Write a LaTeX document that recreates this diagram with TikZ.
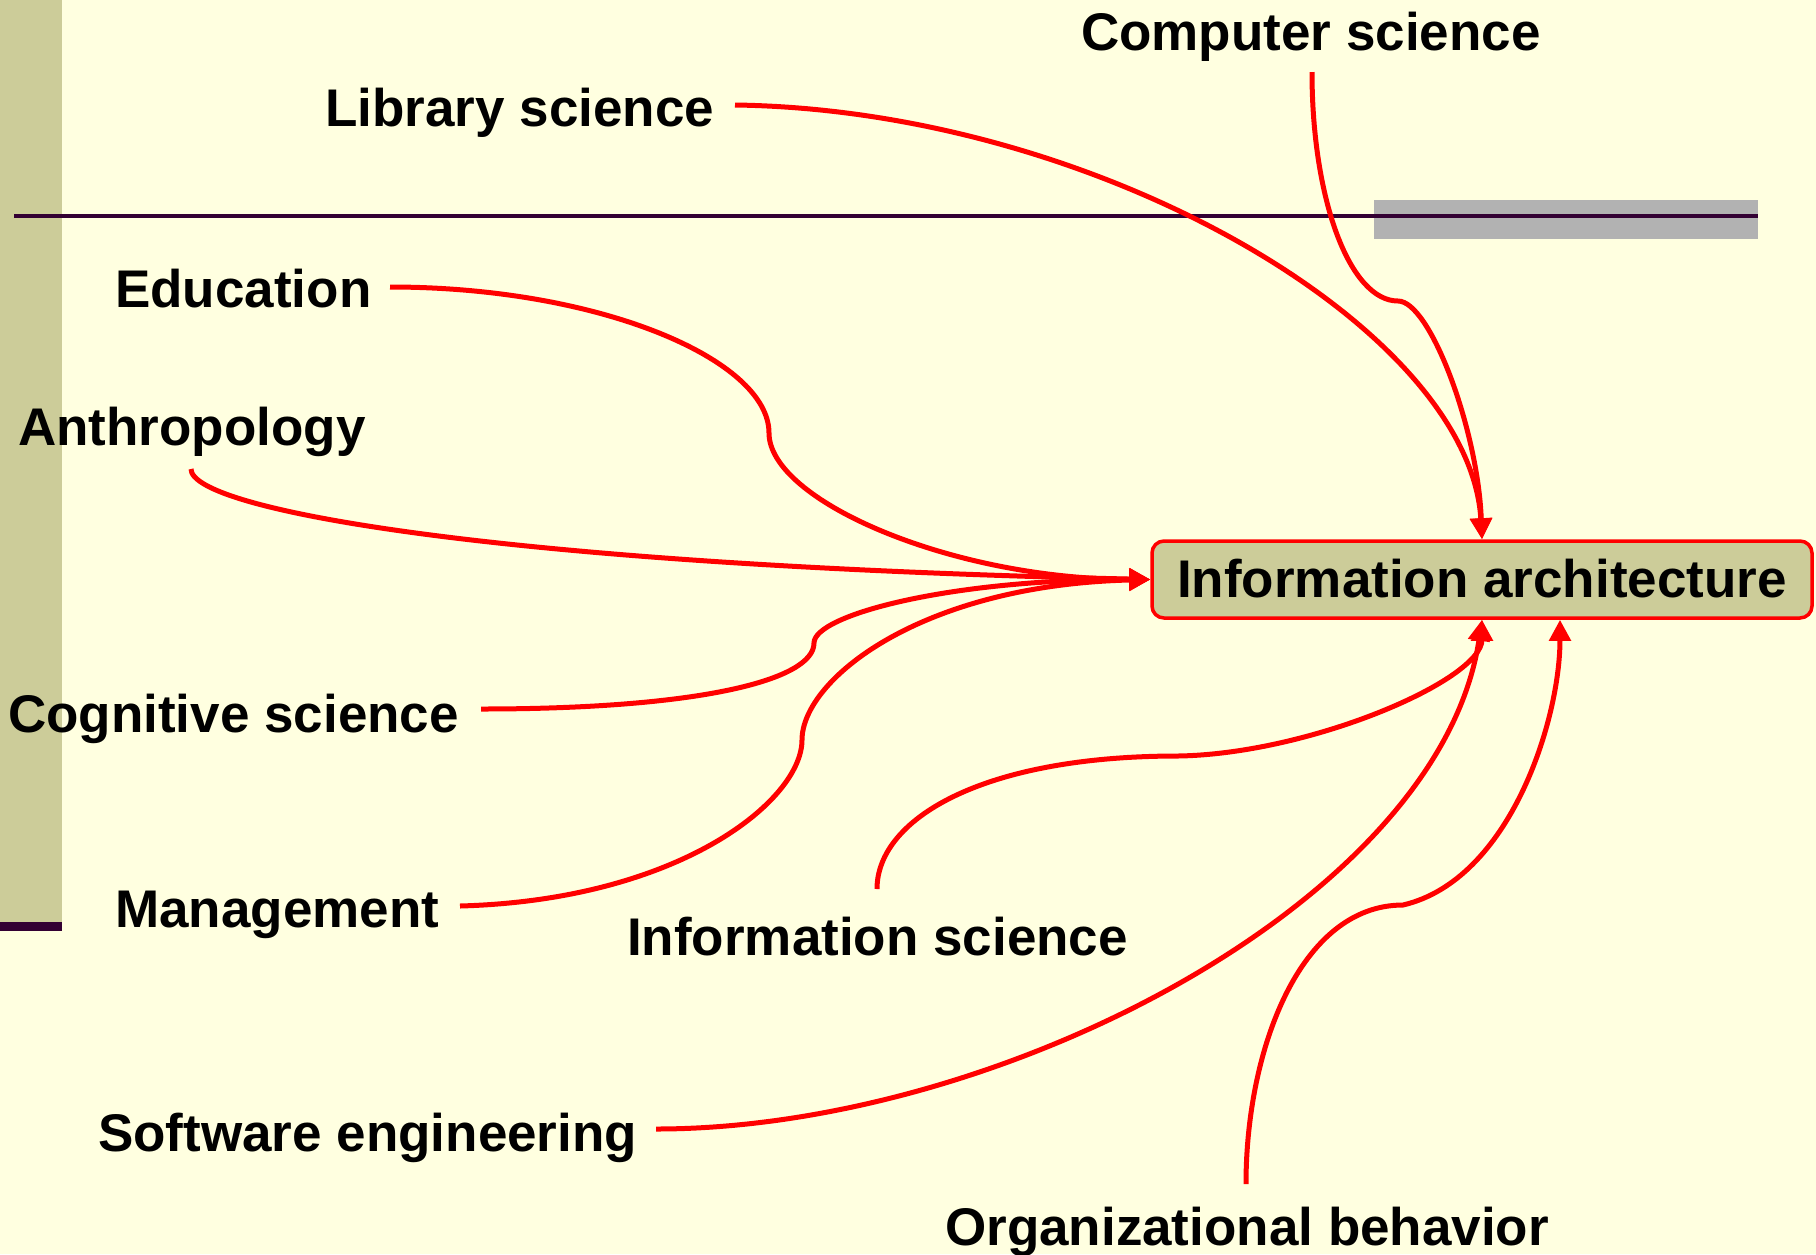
\documentclass[tikz,border=0pt]{standalone}
\usepackage{fontspec}
\setmainfont{Liberation Sans}
\usetikzlibrary{arrows.meta,calc}
\definecolor{bgyellow}{RGB}{255,255,224}
\definecolor{khaki}{RGB}{204,204,153}
\definecolor{darkplum}{RGB}{51,0,51}
\definecolor{bargray}{RGB}{178,178,178}
\definecolor{linkred}{RGB}{255,0,0}
\begin{document}
\begin{tikzpicture}[x=1pt,y=-1pt,
  lbl/.style={anchor=base west, inner sep=0pt, font=\fontsize{53}{60}\selectfont\bfseries},
  link/.style={draw=linkred, line width=5pt, -{Triangle[length=21pt,width=21pt]}},
  hub/.style={draw=linkred, line width=3.5pt, fill=khaki, rounded corners=12pt,
    minimum width=660pt, minimum height=77pt, inner sep=0pt,
    font=\fontsize{53}{60}\selectfont\bfseries}]
% background
\fill[bgyellow] (0,0) rectangle (1816,1254);
\useasboundingbox (0,0) rectangle (1816,1254);
% left bar
\fill[khaki] (0,0) rectangle (62,922);
\fill[darkplum] (0,922) rectangle (62,931);
% top rule with gray block
\fill[bargray] (1374,200) rectangle (1758,239);
\draw[darkplum, line width=3.5pt] (14,216) -- (1758,216);

% hub
\node[hub] (ia) at (1482,579.5) {\raisebox{2pt}{Information architecture}};

% labels
\node[lbl] (cs)  at (1081,50)   {Computer science};
\node[lbl] (lib) at (325,126)   {Library science};
\node[lbl] (edu) at (115,307)   {Education};
\node[lbl] (ant) at (18,445)    {Anthropology};
\node[lbl] (cog) at (8,732)     {Cognitive science};
\node[lbl] (man) at (115,927)   {Management};
\node[lbl] (ins) at (627,955)   {Information science};
\node[lbl] (swe) at (98,1151)   {Software engineering};
\node[lbl] (org) at (945,1245)  {Organizational behavior};

% connector start points
\coordinate (csS)  at (1312,72);
\coordinate (libS) at (735,105);
\coordinate (eduS) at (390,287);
\coordinate (antS) at (191,469);
\coordinate (cogS) at (481,709);
\coordinate (manS) at (460,906);
\coordinate (insS) at (877,889);
\coordinate (sweS) at (656,1129);
\coordinate (orgS) at (1246,1184);
\coordinate (orgE) at ($(ia.south)+(78,0)$);

% connectors
\draw[link] (libS) .. controls (1100,110) and (1470,330) .. (ia.north);
\draw[link] (csS) .. controls (1312,200) and (1350,301) .. (1398,301)
                  .. controls (1430,301) and (1478,430) .. (ia.north);
\draw[link] (eduS) .. controls (600,287) and (769,360) .. (769,433)
                   .. controls (769,500) and (950,579) .. (ia.west);
\draw[link] (antS) .. controls (191,510) and (500,565) .. (ia.west);
\draw[link] (cogS) .. controls (700,709) and (814,680) .. (814,643)
                   .. controls (814,615) and (950,579) .. (ia.west);
\draw[link] (manS) .. controls (680,900) and (802,800) .. (802,740)
                   .. controls (802,680) and (920,585) .. (ia.west);
\draw[link] (insS) .. controls (877,820) and (980,756) .. (1178,756)
                   .. controls (1310,754) and (1482,680) .. (ia.south);
\draw[link] (sweS) .. controls (1000,1129) and (1440,900) .. (ia.south);
\draw[link] (orgS) .. controls (1246,1050) and (1300,905) .. (1403,905)
                   .. controls (1510,880) and (1560,720) .. (orgE);
\end{tikzpicture}
\end{document}
